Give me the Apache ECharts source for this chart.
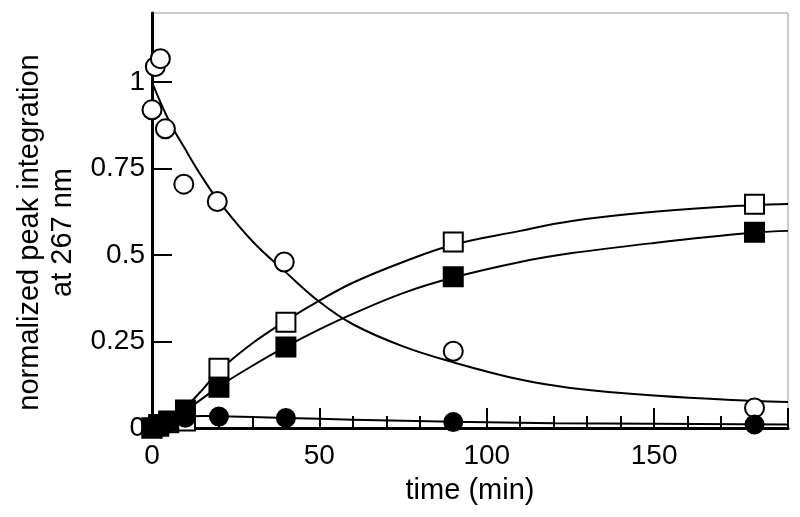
<!DOCTYPE html>
<html><head><meta charset="utf-8">
<script src="https://cdn.jsdelivr.net/npm/echarts@6/dist/echarts.min.js"></script>
<style>html,body{margin:0;padding:0;background:#fff}#c{width:800px;height:517px}</style>
</head><body><div id="c"></div>
<script>
// Measured points
const openCircles   = [[0,0.92],[1,1.045],[2.5,1.068],[4,0.865],[9.5,0.705],[19.5,0.655],[39.5,0.48],[90,0.222],[180,0.058]];
const openSquares   = [[0,0],[2,0.01],[5,0.015],[10,0.02],[20,0.173],[40,0.306],[90,0.538],[180,0.647]];
const filledSquares = [[0,0],[2,0.005],[5,0.02],[10,0.052],[20,0.118],[40,0.234],[90,0.437],[180,0.566]];
const filledCircles = [[0,0.005],[2,0.01],[5,0.015],[10,0.03],[20,0.033],[40,0.029],[90,0.017],[180,0.01]];
// Fitted curves
const circleFit = [[0,1.0],[5,0.89],[10,0.805],[15,0.725],[20,0.655],[30,0.54],[40,0.45],[50,0.365],[60,0.30],[75,0.236],[90,0.19],[110,0.14],[125,0.116],[150,0.094],[180,0.078],[190,0.075]];
const openSquareFit = [[0,0],[5,0.02],[10,0.06],[15,0.11],[20,0.165],[30,0.245],[40,0.31],[50,0.368],[60,0.42],[75,0.48],[90,0.53],[110,0.57],[125,0.598],[150,0.625],[180,0.645],[190,0.648]];
const filledSquareFit = [[0,0],[5,0.02],[10,0.05],[15,0.085],[20,0.12],[30,0.18],[40,0.235],[50,0.285],[60,0.33],[75,0.39],[90,0.435],[110,0.48],[125,0.505],[150,0.535],[180,0.565],[190,0.57]];
const filledCircleFit = [[0,0],[5,0.02],[10,0.032],[15,0.035],[20,0.034],[40,0.029],[60,0.024],[90,0.018],[120,0.014],[150,0.012],[190,0.01]];
const yTicks = [0,0.25,0.5,0.75,1];
const yTickLabels = ['0','0.25','0.5','0.75','1'];
const xTicks = [0,50,100,150];

const font = 'Liberation Sans, Arial, sans-serif';
const chart = echarts.init(document.getElementById('c'));
function curve(d){return {type:'line',data:d,smooth:0.4,showSymbol:false,symbol:'none',lineStyle:{color:'#000',width:2},z:2,silent:true};}
function marks(d,sym,fill,size){return {type:'scatter',data:d,symbol:sym,symbolSize:size,itemStyle:{color:fill,borderColor:'#000',borderWidth:2,opacity:1},z:3,clip:false,silent:true};}
chart.setOption({
  animation:false,
  grid:{left:152,right:12,top:13,bottom:89,show:true,borderColor:'#999',borderWidth:1},
  xAxis:{type:'value',min:0,max:190,interval:50,
    name:'time (min)',nameLocation:'middle',nameGap:48,
    nameTextStyle:{fontFamily:font,fontSize:29,color:'#000'},
    axisLine:{show:true,onZero:false,lineStyle:{color:'#000',width:3}},
    axisTick:{show:true,inside:true,length:20,lineStyle:{color:'#000',width:2}},
    minorTick:{show:true,splitNumber:5,length:12,lineStyle:{color:'#000',width:2}},
    axisLabel:{fontFamily:font,fontSize:28,color:'#000',margin:14,customValues:xTicks},
    splitLine:{show:false},minorSplitLine:{show:false}},
  yAxis:{type:'value',min:0,max:1.2,
    name:'normalized peak integration\nat 267 nm',nameLocation:'middle',nameGap:72,
    nameTextStyle:{fontFamily:font,fontSize:29,color:'#000',lineHeight:33,padding:[0,24,0,0]},
    axisLine:{show:true,lineStyle:{color:'#000',width:3}},
    axisTick:{show:true,inside:true,length:20,lineStyle:{color:'#000',width:2},customValues:yTicks},
    axisLabel:{fontFamily:font,fontSize:28,color:'#000',margin:7,customValues:yTicks,
      formatter:function(v){const i=yTicks.indexOf(v);return i>=0?yTickLabels[i]:'';}},
    splitLine:{show:false}},
  series:[
    curve(circleFit),curve(openSquareFit),curve(filledSquareFit),curve(filledCircleFit),
    marks(openCircles,'circle','#fff',19),
    marks(openSquares,'rect','#fff',19),
    marks(filledSquares,'rect','#000',19),
    marks(filledCircles,'circle','#000',18)
  ]
});
</script></body></html>
